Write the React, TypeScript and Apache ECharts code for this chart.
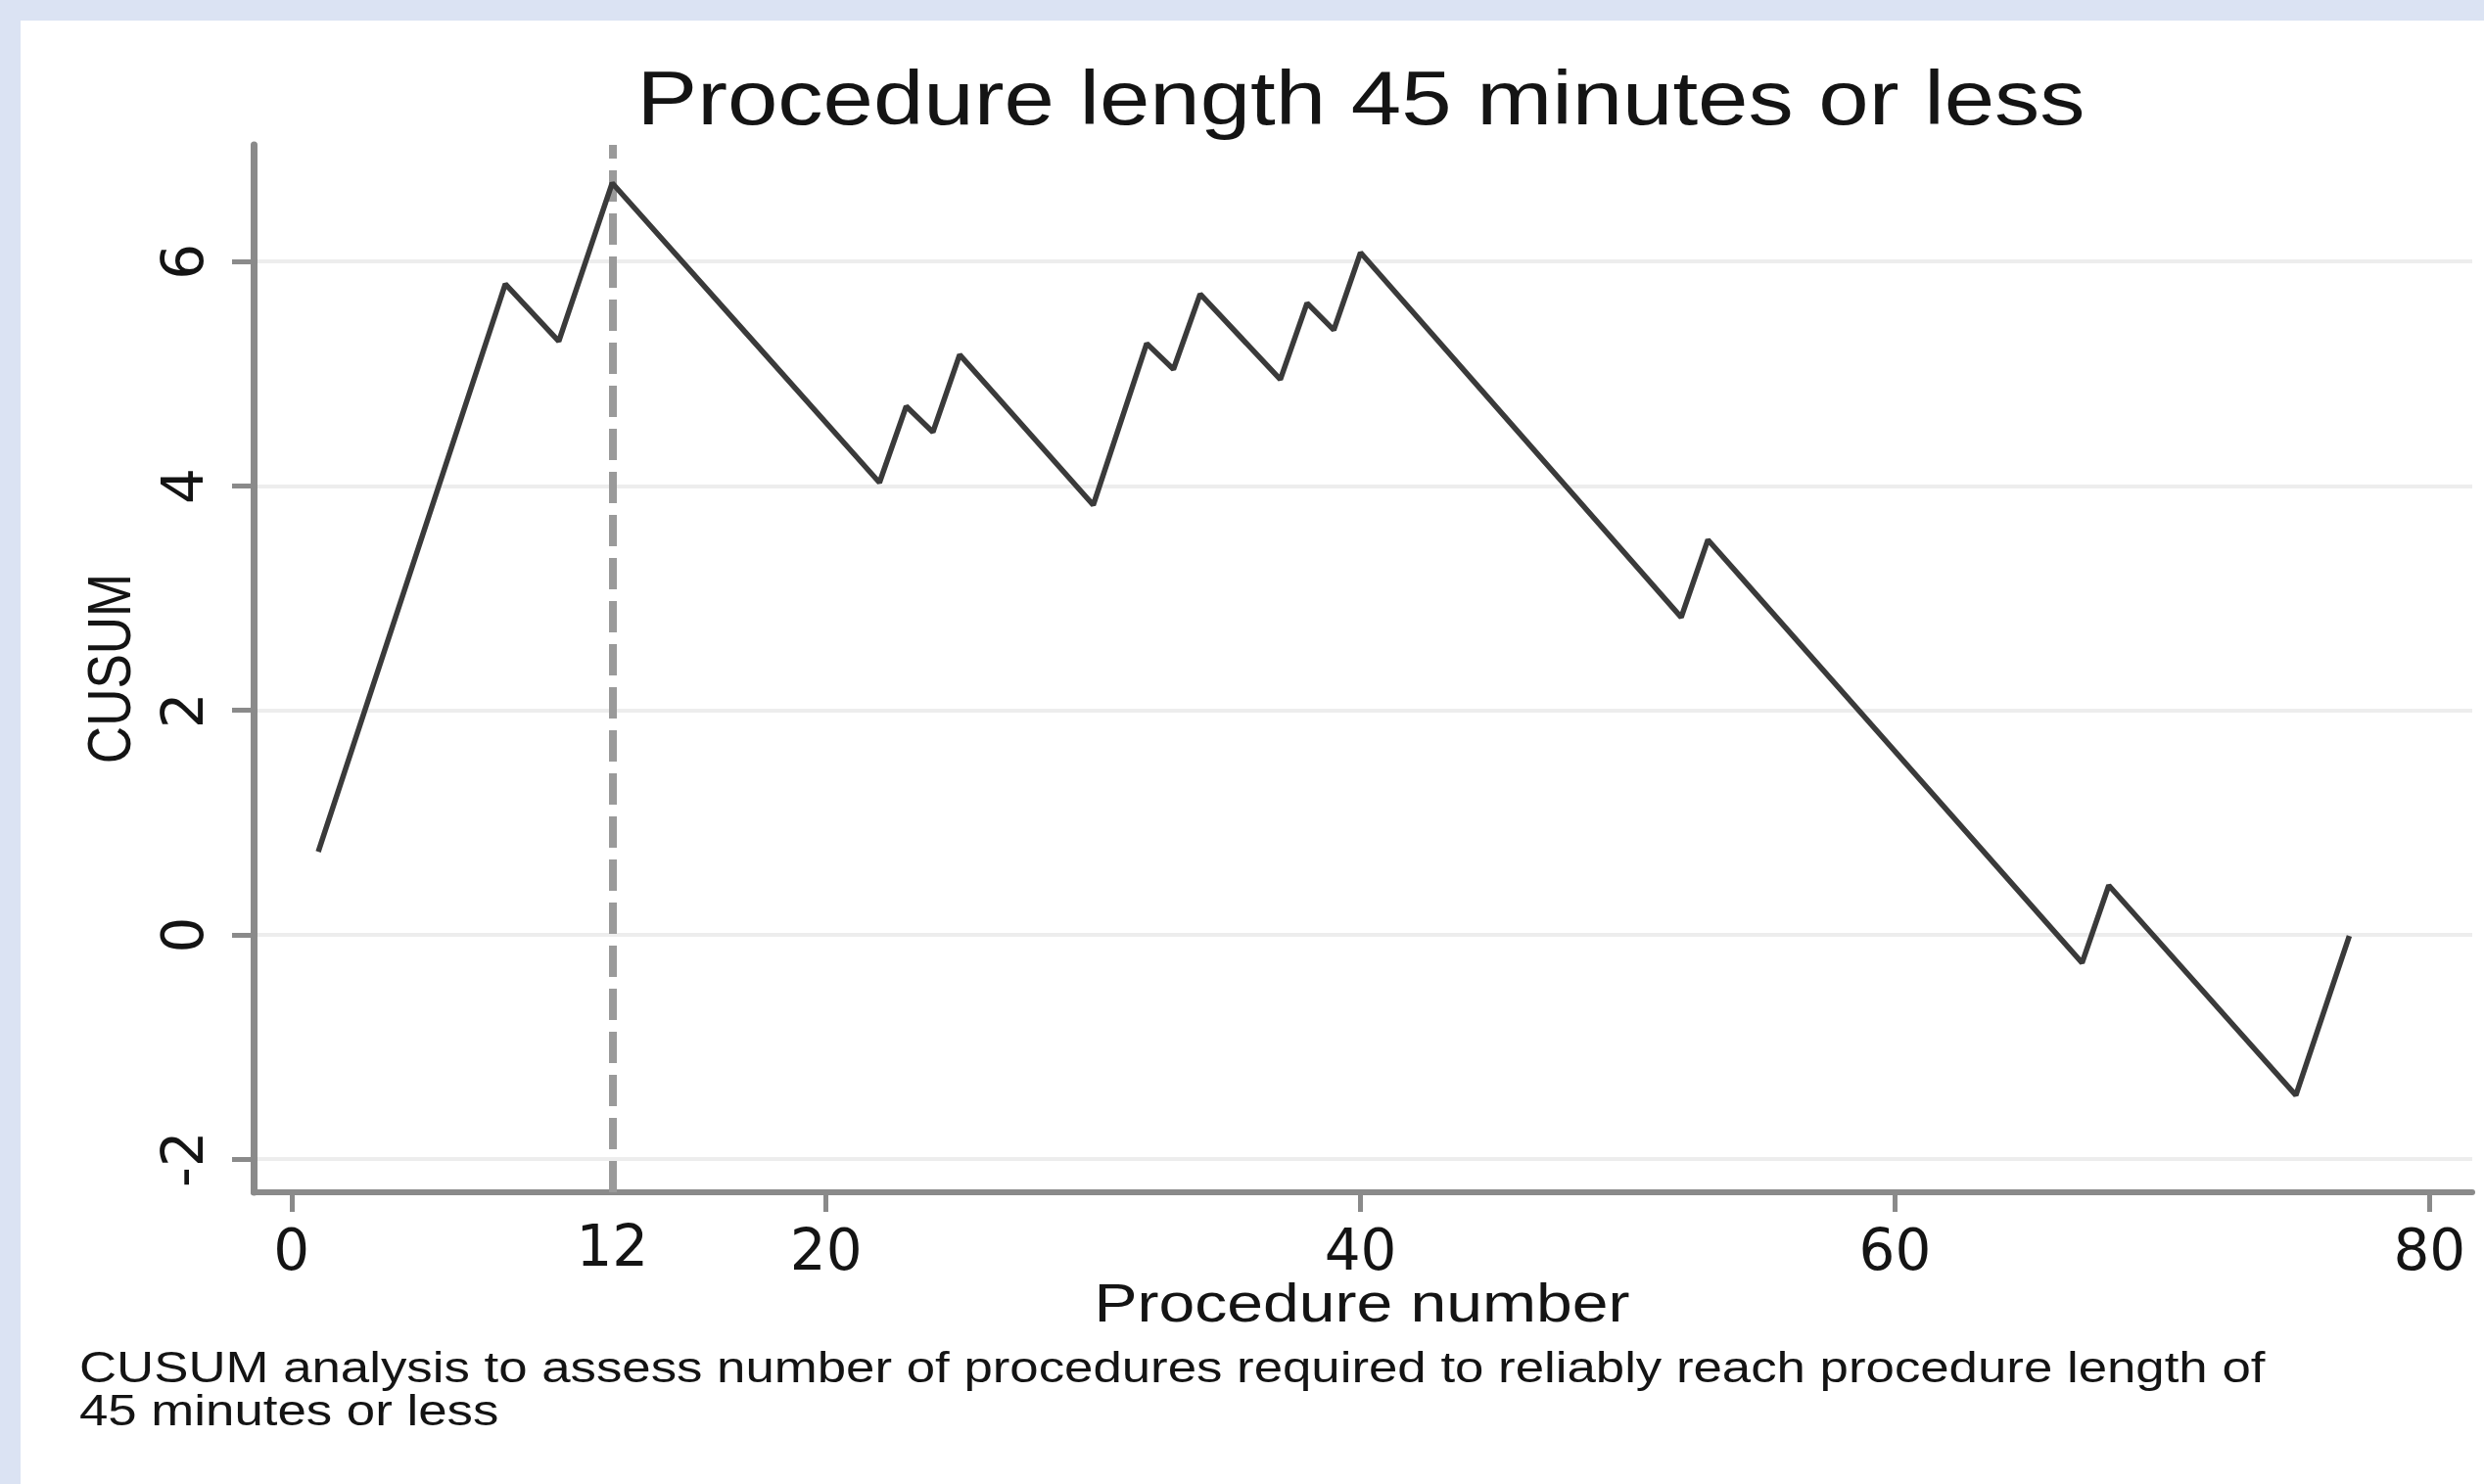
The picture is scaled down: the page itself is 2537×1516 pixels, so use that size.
import React, { useEffect, useRef } from "react";
import * as echarts from "echarts";

// Turning points of the CUSUM line (procedure number, CUSUM value)
const procedureNumber = [1, 8, 10, 12, 22, 23, 24, 25, 30, 32, 33, 34, 37, 38, 39, 40, 52, 53, 67, 68, 75, 77];
const cusumValues = [0.74, 5.8, 5.29, 6.7, 4.03, 4.71, 4.48, 5.17, 3.83, 5.27, 5.04, 5.71, 4.95, 5.63, 5.39, 6.08, 2.83, 3.52, -0.25, 0.44, -1.43, -0.01];

const xTickValues = [0, 20, 40, 60, 80];
const xLabelValues = [0, 12, 20, 40, 60, 80];
const yTickValues = [-2, 0, 2, 4, 6];
const learningPoint = 12;

const titleText = "Procedure length 45 minutes or less";
const xAxisTitle = "Procedure number";
const yAxisTitle = "CUSUM";
const noteLines = [
  "CUSUM analysis to assess number of procedures required to reliably reach procedure length of",
  "45 minutes or less",
];

export default function App() {
  const ref = useRef<HTMLDivElement>(null);

  useEffect(() => {
    const el = ref.current;
    if (!el) return;
    const chart = echarts.init(el, null, { renderer: "svg" });
    const font = "'Liberation Sans', Arial, Helvetica, sans-serif";
    const digitFont = "'DejaVu Sans', 'Liberation Sans', sans-serif";
    const textColor = "#141414";
    const axisColor = "#8a8a8a";
    const data = procedureNumber.map((x, i) => [x, cusumValues[i]]);

    chart.setOption({
      animation: false,
      backgroundColor: "#dbe3f3",
      grid: {
        left: 259,
        right: 12,
        top: 148,
        bottom: 298,
        containLabel: false,
        outerBoundsMode: "none",
      },
      xAxis: {
        type: "value",
        min: -1.42,
        max: 81.6,
        axisLine: { show: true, onZero: false, lineStyle: { color: axisColor, width: 6 } },
        axisTick: {
          show: true,
          length: 20,
          customValues: xTickValues,
          lineStyle: { color: axisColor, width: 5 },
        },
        axisLabel: {
          customValues: xLabelValues,
          margin: 25,
          color: textColor,
          fontFamily: digitFont,
          fontSize: 58,
          lineHeight: 60,
          formatter: (v: number) => (v === learningPoint ? `{hi|${v}}` : `{n|${v}}`),
          rich: {
            n: { fontFamily: digitFont, fontSize: 58, lineHeight: 60, color: textColor, padding: [8, 0, 0, 0] },
            hi: { fontFamily: digitFont, fontSize: 58, lineHeight: 60, color: textColor },
          },
        },
        splitLine: { show: false },
      },
      yAxis: {
        type: "value",
        min: -2.295,
        max: 7.04,
        axisLine: { show: true, onZero: false, lineStyle: { color: axisColor, width: 7 } },
        axisTick: {
          show: true,
          length: 22,
          customValues: yTickValues,
          lineStyle: { color: axisColor, width: 5 },
        },
        axisLabel: {
          customValues: yTickValues,
          rotate: 90,
          margin: 42,
          color: textColor,
          fontFamily: digitFont,
          fontSize: 58,
          lineHeight: 60,
        },
        splitLine: { show: true, lineStyle: { color: "#ededed", width: 4 } },
      },
      series: [
        {
          type: "line",
          data,
          symbol: "none",
          lineStyle: { color: "#3a3a3a", width: 5.5 },
          z: 3,
          markLine: {
            silent: true,
            symbol: ["none", "none"],
            label: { show: false },
            lineStyle: { type: [32, 12], color: "#9a9a9a", width: 8 },
            data: [{ xAxis: learningPoint }],
            z: 2,
          },
        },
      ],
      graphic: [
        {
          type: "rect",
          z: -100,
          silent: true,
          shape: { x: 21, y: 21, width: 2516, height: 1495 },
          style: { fill: "#ffffff" },
        },
        {
          type: "text",
          x: 1390,
          y: 100,
          scaleX: 1.2,
          style: {
            text: titleText,
            fontFamily: font,
            fontSize: 77,
            fill: textColor,
            align: "center",
            textAlign: "center",
            verticalAlign: "middle",
            textVerticalAlign: "middle",
          },
        },
        {
          type: "text",
          x: 1391,
          y: 1331,
          scaleX: 1.18,
          style: {
            text: xAxisTitle,
            fontFamily: font,
            fontSize: 56,
            fill: textColor,
            align: "center",
            textAlign: "center",
            verticalAlign: "middle",
            textVerticalAlign: "middle",
          },
        },
        {
          type: "text",
          x: 111,
          y: 683,
          rotation: Math.PI / 2,
          scaleY: 1.2,
          style: {
            text: yAxisTitle,
            fontFamily: font,
            fontSize: 53,
            fill: textColor,
            align: "center",
            textAlign: "center",
            verticalAlign: "middle",
            textVerticalAlign: "middle",
          },
        },
        {
          type: "text",
          x: 81,
          y: 1397,
          scaleX: 1.2,
          style: {
            text: noteLines[0],
            fontFamily: font,
            fontSize: 44,
            fill: textColor,
            align: "left",
            textAlign: "left",
            verticalAlign: "middle",
            textVerticalAlign: "middle",
          },
        },
        {
          type: "text",
          x: 81,
          y: 1441,
          scaleX: 1.2,
          style: {
            text: noteLines[1],
            fontFamily: font,
            fontSize: 44,
            fill: textColor,
            align: "left",
            textAlign: "left",
            verticalAlign: "middle",
            textVerticalAlign: "middle",
          },
        },
      ],
    });

    return () => chart.dispose();
  }, []);

  return (
    <div
      ref={ref}
      style={{ position: "fixed", left: 0, top: 0, width: 2537, height: 1516 }}
    />
  );
}
